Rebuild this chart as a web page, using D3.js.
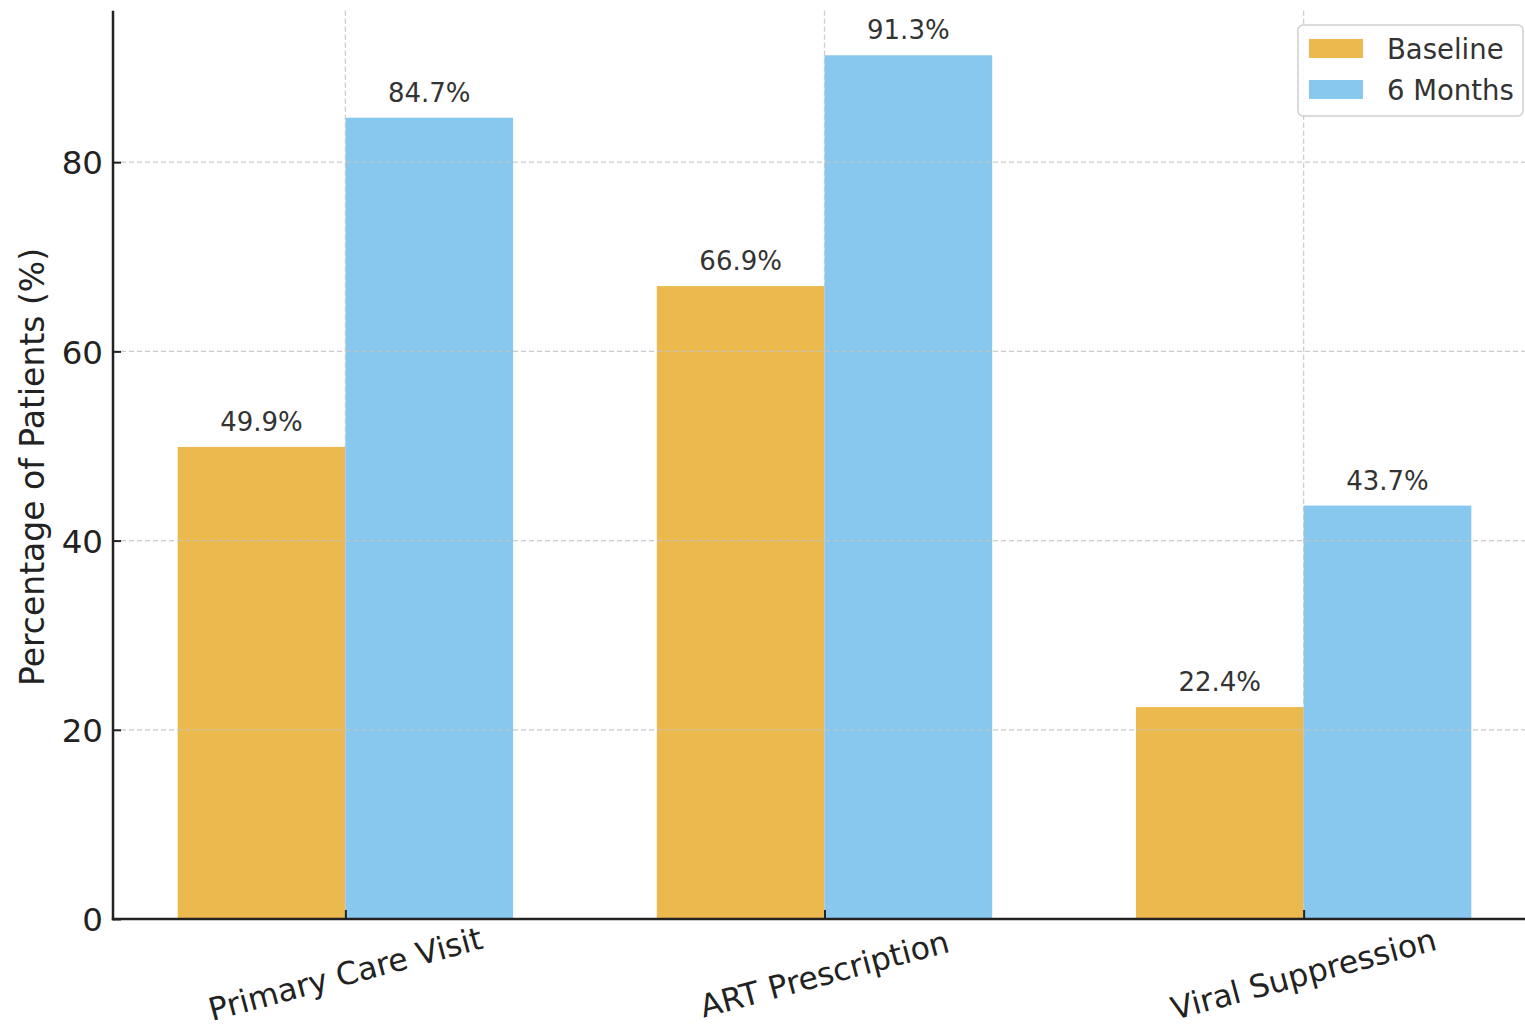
<!DOCTYPE html>
<html>
<head>
<meta charset="utf-8">
<script src="https://cdn.jsdelivr.net/npm/d3@7"></script>
<style>
  html, body { margin: 0; padding: 0; background: #fff; }
  svg { display: block; font-family: "DejaVu Sans", sans-serif; }
</style>
</head>
<body>
<svg id="chart" width="1525" height="1030"></svg>
<script>
const categories = ["Primary Care Visit", "ART Prescription", "Viral Suppression"];
const seriesNames = ["Baseline", "6 Months"];
const baselineValues = [49.9, 66.9, 22.4];
const sixMonthValues = [84.7, 91.3, 43.7];
const yTickValues = [0, 20, 40, 60, 80];
const seriesColors = ["#ebb94d", "#89c8ee"];

const svg = d3.select("#chart");
const pL = 113, pR = 1536, pT = 10.8, pB = 919;
const barW = 0.35;

const x = d3.scaleLinear().domain([-0.485, categories.length - 1 + 0.485]).range([pL, pR]);
const y = d3.scaleLinear().domain([0, 96]).range([pB, pT]);

const series = [baselineValues, sixMonthValues];

// Bars
const g = svg.append("g");
series.forEach((vals, s) => {
  g.selectAll(null).data(vals).enter().append("rect")
    .attr("x", (d, i) => x(i + (s === 0 ? -barW : 0)))
    .attr("width", x(barW) - x(0))
    .attr("y", d => y(d))
    .attr("height", d => y(0) - y(d))
    .attr("fill", seriesColors[s]);
});

// Grid (above bars)
const grid = svg.append("g").attr("stroke", "#c4c4c4").attr("stroke-width", 1.3)
  .attr("stroke-dasharray", "5,3").attr("opacity", 0.85);
yTickValues.filter(v => v > 0).forEach(v => {
  grid.append("line").attr("x1", pL).attr("x2", pR).attr("y1", y(v)).attr("y2", y(v));
});
categories.forEach((c, i) => {
  grid.append("line").attr("x1", x(i)).attr("x2", x(i)).attr("y1", pT).attr("y2", pB);
});

// Value labels
series.forEach((vals, s) => {
  svg.append("g").selectAll("text").data(vals).enter().append("text")
    .attr("x", (d, i) => x(i + (s === 0 ? -barW / 2 : barW / 2)))
    .attr("y", d => y(d) - 16)
    .attr("text-anchor", "middle")
    .attr("font-size", 26)
    .attr("fill", "#333")
    .text(d => d.toFixed(1) + "%");
});

// Y axis
const yAxis = d3.axisLeft(y).tickValues(yTickValues).tickSize(-8).tickPadding(10).tickFormat(d3.format("d"));
const ya = svg.append("g").attr("transform", `translate(${pL},0)`).call(yAxis);
ya.select(".domain").remove();
ya.selectAll(".tick line").attr("stroke", "#222").attr("stroke-width", 2);
ya.selectAll(".tick text").attr("font-size", 32.5).attr("fill", "#222")
  .attr("font-family", "DejaVu Sans").attr("dy", "0.36em");

// X axis
const xAxis = d3.axisBottom(x).tickValues(d3.range(categories.length)).tickSize(-9).tickFormat(() => "");
const xa = svg.append("g").attr("transform", `translate(0,${pB})`).call(xAxis);
xa.select(".domain").remove();
xa.selectAll(".tick line").attr("stroke", "#222").attr("stroke-width", 2);

svg.append("g").selectAll("text").data(categories).enter().append("text")
  .attr("transform", (d, i) => `translate(${x(i)},974) rotate(-15)`)
  .attr("text-anchor", "middle")
  .attr("dominant-baseline", "central")
  .attr("font-size", 31.5)
  .attr("fill", "#222")
  .text(d => d);

// Spines
svg.append("line").attr("x1", pL).attr("x2", pL).attr("y1", pT).attr("y2", pB + 1.2)
  .attr("stroke", "#222").attr("stroke-width", 2.5);
svg.append("line").attr("x1", pL - 1.2).attr("x2", pR).attr("y1", pB).attr("y2", pB)
  .attr("stroke", "#222").attr("stroke-width", 2.5);

// Y label
svg.append("text")
  .attr("transform", `translate(44,467) rotate(-90)`)
  .attr("text-anchor", "middle")
  .attr("font-size", 33)
  .attr("fill", "#222")
  .text("Percentage of Patients (%)");

// Legend
const lg = svg.append("g").attr("transform", "translate(1298,25)");
lg.append("rect").attr("x", 0).attr("y", 0).attr("width", 225).attr("height", 91)
  .attr("rx", 5).attr("fill", "#fff").attr("fill-opacity", 0.85)
  .attr("stroke", "#d0d0d0").attr("stroke-width", 1.5);
seriesNames.forEach((n, i) => {
  lg.append("rect").attr("x", 11).attr("y", 14 + i * 41).attr("width", 54).attr("height", 19)
    .attr("fill", seriesColors[i]);
  lg.append("text").attr("x", 89).attr("y", 23.5 + i * 41)
    .attr("dominant-baseline", "central")
    .attr("font-size", 27.5).attr("fill", "#333").text(n);
});
</script>
</body>
</html>
